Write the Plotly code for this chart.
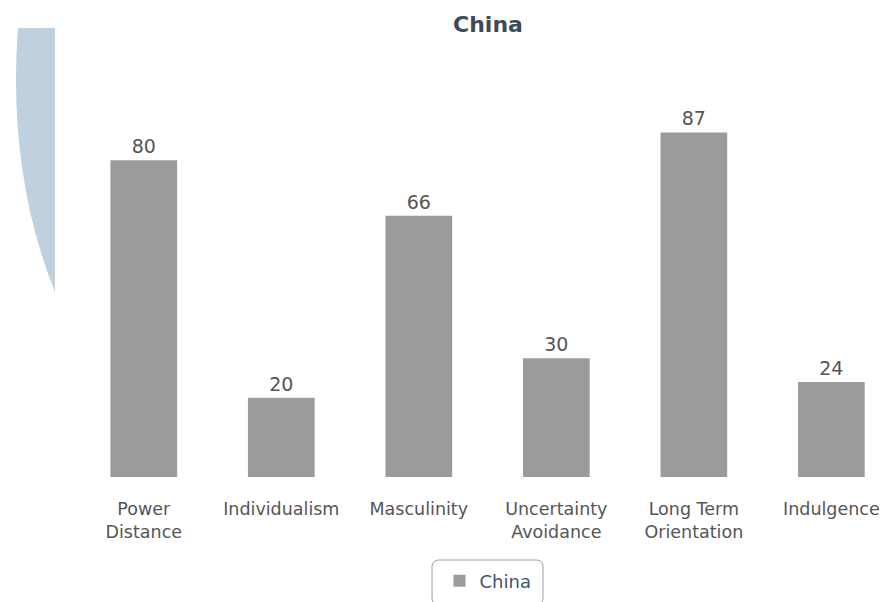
import plotly.graph_objects as go

categories = ["Power<br>Distance", "Individualism", "Masculinity", "Uncertainty<br>Avoidance", "Long Term<br>Orientation", "Indulgence"]
values = [80, 20, 66, 30, 87, 24]
series_name = "China"

W, H = 885, 602
ML, MR, MT, MB = 75, 0, 81, 125
PW = W - ML - MR
PH = H - MT - MB

def px(x):
    return (x - ML) / PW

def py(y):
    return (H - MB - y) / PH

fig = go.Figure()
fig.add_trace(go.Bar(
    x=list(range(len(categories))),
    y=values,
    name=series_name,
    marker=dict(color="#9b9a9c", line=dict(width=0)),
    text=[str(v) for v in values],
    textposition="outside",
    textfont=dict(family="DejaVu Sans", size=19, color="#555555"),
    cliponaxis=False,
    width=0.485,
    showlegend=True,
))

path = (f"M {px(18)},{py(28)} L {px(55)},{py(28)} L {px(55)},{py(292)} "
        f"C {px(22)},{py(210)} {px(11)},{py(120)} {px(18)},{py(28)} Z")

def rrect(x0, y0, x1, y1, r):
    return (f"M {px(x0 + r)},{py(y0)} L {px(x1 - r)},{py(y0)} Q {px(x1)},{py(y0)} {px(x1)},{py(y0 + r)} "
            f"L {px(x1)},{py(y1 - r)} Q {px(x1)},{py(y1)} {px(x1 - r)},{py(y1)} "
            f"L {px(x0 + r)},{py(y1)} Q {px(x0)},{py(y1)} {px(x0)},{py(y1 - r)} "
            f"L {px(x0)},{py(y0 + r)} Q {px(x0)},{py(y0)} {px(x0 + r)},{py(y0)} Z")

fig.update_layout(
    width=W, height=H,
    margin=dict(l=ML, r=MR, t=MT, b=MB, autoexpand=False),
    paper_bgcolor="white", plot_bgcolor="white",
    title=dict(text="<b>China</b>", xref="container", x=488 / W, xanchor="center", y=1 - 24 / H, yanchor="middle",
               font=dict(family="DejaVu Sans", size=22, color="#3d4a5a")),
    xaxis=dict(
        tickmode="array", tickvals=list(range(len(categories))), ticktext=categories,
        range=[-0.5, 5.39], showgrid=False, zeroline=False, showline=False,
        ticks="outside", ticklen=16, tickcolor="rgba(0,0,0,0)",
        tickfont=dict(family="DejaVu Sans", size=17.5, color="#555555"),
        fixedrange=True,
    ),
    yaxis=dict(range=[0, 100], visible=False, fixedrange=True),
    legend=dict(
        orientation="h", x=px(488), xanchor="center", y=py(581), yanchor="middle",
        borderwidth=0, bgcolor="rgba(0,0,0,0)",
        font=dict(family="DejaVu Sans", size=18, color="#3e576f"),
    ),
    shapes=[
        dict(type="path", xref="paper", yref="paper", path=path,
             fillcolor="#bfd0de", line=dict(width=0), layer="below"),
        dict(type="path", xref="paper", yref="paper", path=rrect(432, 560, 543, 605, 7),
             fillcolor="white", line=dict(width=1, color="#a0a0a0"), layer="below"),
    ],
    bargap=0.5,
)

fig.write_html("out.html")
